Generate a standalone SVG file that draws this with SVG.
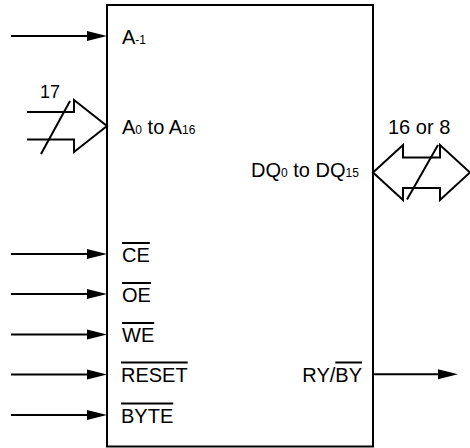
<svg xmlns="http://www.w3.org/2000/svg" width="470" height="448" viewBox="0 0 470 448">
  <style>
    .ln { stroke: #000; stroke-width: 2; fill: none; }
    .bus { stroke: #000; stroke-width: 2; fill: #fff; stroke-linejoin: miter; }
    .t { font-family: "Liberation Sans", Arial, sans-serif; font-size: 20px; fill: #000; }
    .s { font-size: 12px; }
    .ov { text-decoration: overline; }
  </style>
  <defs>
    <marker id="ah" markerUnits="userSpaceOnUse" markerWidth="20" markerHeight="10" refX="10" refY="5" orient="auto" overflow="visible">
      <path d="M0,0 L20,5 L0,10 Z" fill="#000"/>
    </marker>
  </defs>
  <rect x="0" y="0" width="470" height="448" fill="#fff"/>

  <g id="chip">
    <rect x="107" y="5" width="266" height="441.5" class="ln"/>
    <text class="t" x="122" y="44">A<tspan class="s">-1</tspan></text>
    <text class="t" x="122" y="134">A<tspan class="s">0</tspan> to A<tspan class="s">16</tspan></text>
    <text class="t" x="251" y="177">DQ<tspan class="s">0</tspan> to DQ<tspan class="s">15</tspan></text>
    <text class="t ov" x="122" y="262">CE</text>
    <text class="t ov" x="122" y="302">OE</text>
    <text class="t ov" x="122" y="342">WE</text>
    <text class="t ov" x="121" y="381.5">RESET</text>
    <text class="t ov" x="121" y="422.5">BYTE</text>
    <text class="t" x="362" y="381.5" text-anchor="end">RY/<tspan class="ov">BY</tspan></text>
  </g>

  <g id="connectors">
    <path class="ln" d="M11,36 H97" marker-end="url(#ah)"/>
    <path class="ln" d="M11,254 H97" marker-end="url(#ah)"/>
    <path class="ln" d="M11,294 H97" marker-end="url(#ah)"/>
    <path class="ln" d="M11,334.5 H97" marker-end="url(#ah)"/>
    <path class="ln" d="M11,374.5 H97" marker-end="url(#ah)"/>
    <path class="ln" d="M11,415 H97" marker-end="url(#ah)"/>
    <path class="ln" d="M373,374.3 H448" marker-end="url(#ah)"/>

    <g id="addr-bus">
      <path class="bus" d="M27,112 H74 V100 L107,126 L74,152 V139.5 H27"/>
      <path class="ln" d="M41,154 L70,101"/>
      <text class="t" x="40" y="97.5" style="font-size:18px">17</text>
    </g>

    <g id="data-bus">
      <path class="bus" d="M373,172.5 L403,145 V157.5 H440 V145 L470,172.5 L440,200 V188 H403 V200 Z"/>
      <path class="ln" d="M407,199.5 L438,145"/>
      <text class="t" x="388" y="134">16 or 8</text>
    </g>
  </g>
</svg>
